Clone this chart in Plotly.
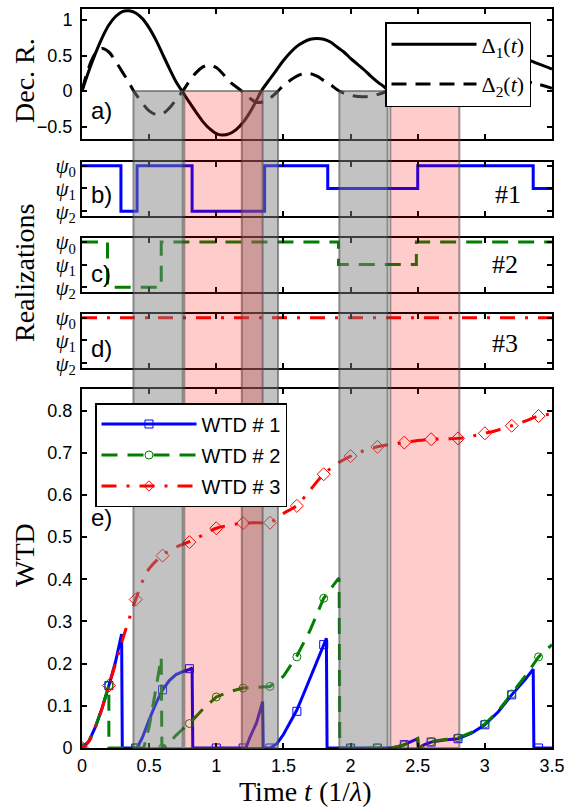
import plotly.graph_objects as go

# ---------------- data ----------------
# Panel a: decoherence rates
t_d1 = [0, 0.05, 0.1, 0.15, 0.2, 0.25, 0.3, 0.35, 0.4, 0.45, 0.5, 0.55, 0.6, 0.65, 0.7, 0.745,
        0.8, 0.85, 0.9, 0.95, 1.0, 1.04, 1.1, 1.15, 1.2, 1.25, 1.3, 1.335, 1.4, 1.45, 1.5, 1.55,
        1.6, 1.65, 1.7, 1.75, 1.8, 1.85, 1.9, 1.95, 2.0, 2.05, 2.1, 2.15, 2.2, 2.25, 2.29, 2.4,
        2.55, 2.7, 2.81, 2.9, 3.0, 3.1, 3.2, 3.3, 3.39, 3.5]
delta1 = [0, 0.28, 0.53, 0.75, 0.93, 1.05, 1.12, 1.13, 1.1, 1.02, 0.89, 0.72, 0.52, 0.32, 0.13, 0,
          -0.16, -0.3, -0.43, -0.53, -0.6, -0.62, -0.6, -0.54, -0.44, -0.3, -0.13, 0, 0.17, 0.3, 0.43, 0.54,
          0.63, 0.69, 0.73, 0.74, 0.73, 0.69, 0.62, 0.55, 0.46, 0.38, 0.3, 0.21, 0.13, 0.06, 0, -0.09,
          -0.14, -0.09, 0, 0.12, 0.26, 0.38, 0.45, 0.45, 0.39, 0.31]
t_d2 = [0, 0.05, 0.1, 0.15, 0.2, 0.25, 0.3, 0.35, 0.385, 0.45, 0.5, 0.55, 0.6, 0.65, 0.7, 0.75,
        0.8, 0.85, 0.9, 0.95, 1.0, 1.05, 1.1, 1.19, 1.25, 1.3, 1.35, 1.4, 1.46, 1.5, 1.55, 1.6,
        1.65, 1.7, 1.75, 1.8, 1.85, 1.916, 2.0, 2.1, 2.2, 2.276, 2.4, 2.6, 2.8, 3.0, 3.2, 3.39, 3.5]
delta2 = [0, 0.33, 0.53, 0.6, 0.55, 0.42, 0.27, 0.12, 0, -0.17, -0.28, -0.33, -0.32, -0.24, -0.12, 0,
          0.14, 0.26, 0.34, 0.37, 0.33, 0.24, 0.13, 0, -0.1, -0.16, -0.15, -0.1, 0, 0.08, 0.15, 0.21,
          0.245, 0.245, 0.21, 0.15, 0.09, 0, -0.06, -0.08, -0.05, 0, 0.1, 0.2, 0.24, 0.23, 0.17, 0.1, 0.04]

# Panels b-d: realizations (0 = psi0, 1 = psi1, 2 = psi2), switching times
real1_t = [0, 0.29, 0.41, 0.82, 1.36, 1.83, 2.5, 3.36, 3.5]
real1_s = [0, 2, 0, 2, 0, 1, 0, 1, 1]
real2_t = [0, 0.19, 0.59, 1.91, 2.49, 3.5]
real2_s = [0, 2, 0, 1, 0, 0]
real3_t = [0, 3.5]
real3_s = [0, 0]
psi_labels = ["<i>ψ</i><sub>0</sub>", "<i>ψ</i><sub>1</sub>", "<i>ψ</i><sub>2</sub>"]

# Shaded intervals: Delta2 < 0 (grey), Delta1 < 0 (red)
neg_delta2 = [(0.383, 0.75), (1.19, 1.46), (1.916, 2.276)]
neg_delta1 = [(0.762, 1.345), (2.296, 2.81)]

# Panel e: waiting-time distributions
wtd1_t = [0, 0.05, 0.1, 0.15, 0.2, 0.25, 0.295, 0.3, 0.41, 0.45, 0.5, 0.55, 0.6, 0.65, 0.7, 0.75, 0.8,
          0.82, 0.825, 1.22, 1.25, 1.3, 1.345, 1.35, 1.4, 1.45, 1.5, 1.55, 1.6, 1.65, 1.7, 1.75, 1.8,
          1.82, 1.825, 2.3, 2.35, 2.4, 2.45, 2.5, 2.505, 2.55, 2.6, 2.7, 2.8, 2.9, 3.0, 3.1, 3.2, 3.3,
          3.36, 3.365, 3.5]
wtd1_v = [0, 0.015, 0.05, 0.095, 0.148, 0.205, 0.27, 0, 0, 0.025, 0.067, 0.105, 0.138, 0.16, 0.174, 0.181, 0.186,
          0.19, 0, 0, 0.025, 0.06, 0.11, 0, 0, 0.01, 0.032, 0.06, 0.09, 0.128, 0.167, 0.205, 0.243,
          0.26, 0, 0, 0.003, 0.008, 0.015, 0.022, 0, 0.008, 0.014, 0.019, 0.022, 0.035, 0.055, 0.086, 0.126, 0.162,
          0.187, 0, 0]
wtd2_t = [0, 0.05, 0.1, 0.15, 0.2, 0.2, 0.46, 0.5, 0.55, 0.59, 0.595, 0.6, 0.65, 0.7, 0.75, 0.8, 0.9, 1.0,
          1.1, 1.2, 1.3, 1.4, 1.5, 1.6, 1.7, 1.8, 1.9, 1.915, 1.92, 2.3, 2.35, 2.4, 2.45, 2.5, 2.505,
          2.55, 2.6, 2.7, 2.8, 2.9, 3.0, 3.1, 3.2, 3.3, 3.4, 3.5]
wtd2_v = [0, 0.015, 0.05, 0.095, 0.148, 0, 0, 0.05, 0.14, 0.215, 0, 0, 0.012, 0.03, 0.045, 0.058, 0.092, 0.121,
          0.134, 0.142, 0.144, 0.146, 0.17, 0.218, 0.28, 0.355, 0.398, 0.403, 0, 0, 0.003, 0.007, 0.014, 0.022, 0,
          0.008, 0.015, 0.02, 0.024, 0.037, 0.057, 0.088, 0.128, 0.17, 0.216, 0.245]
wtd3_t = [0, 0.05, 0.1, 0.15, 0.2, 0.25, 0.3, 0.35, 0.4, 0.45, 0.5, 0.6, 0.7, 0.8, 0.9, 1.0, 1.1, 1.2,
          1.3, 1.4, 1.5, 1.6, 1.7, 1.8, 1.9, 2.0, 2.1, 2.2, 2.3, 2.4, 2.5, 2.6, 2.7, 2.8, 2.9, 3.0,
          3.1, 3.2, 3.3, 3.4, 3.5]
wtd3_v = [0, 0.015, 0.05, 0.095, 0.148, 0.2, 0.255, 0.305, 0.352, 0.395, 0.425, 0.457, 0.476, 0.489, 0.505,
          0.521, 0.528, 0.533, 0.534, 0.535, 0.556, 0.575, 0.612, 0.649, 0.674, 0.692, 0.705, 0.714, 0.72,
          0.724, 0.729, 0.732, 0.733, 0.734, 0.739, 0.746, 0.754, 0.764, 0.775, 0.787, 0.792]
mark_t = [0, 0.2, 0.4, 0.6, 0.8, 1.0, 1.2, 1.4, 1.6, 1.8, 2.0, 2.2, 2.4, 2.6, 2.8, 3.0, 3.2, 3.4]
mark1 = [0, 0.148, 0, 0.138, 0.188, 0, 0, 0, 0.087, 0.245, 0, 0, 0.008, 0.014, 0.022, 0.055, 0.126, 0]
mark2 = [0, 0.148, 0, 0, 0.058, 0.121, 0.142, 0.146, 0.216, 0.355, 0, 0, 0.007, 0.015, 0.024, 0.057, 0.128, 0.216]
mark3 = [0, 0.148, 0.352, 0.456, 0.488, 0.521, 0.533, 0.534, 0.574, 0.649, 0.692, 0.714, 0.724, 0.732,
         0.734, 0.746, 0.764, 0.787]
wtd_names = ["WTD # 1", "WTD # 2", "WTD # 3"]

# ---------------- style ----------------
BLUE, GREEN, RED = "#0000ff", "#007f00", "#ff0000"
SERIF = "Liberation Serif, DejaVu Serif, serif"
SANS = "Liberation Sans, Arial, sans-serif"
W, H = 570, 811
ML, MR, MT, MB = 82, 18, 8, 63

dom_a = [0.823, 0.9986]
dom_b = [0.7193, 0.7919]
dom_c = [0.6166, 0.6888]
dom_d = [0.5139, 0.5865]
dom_e = [0.0, 0.4851]
range_a = [-0.675, 1.155]
range_psi = [2.2, -0.16]
range_e = [0, 0.851]

fig = go.Figure()

# panel a
fig.add_trace(go.Scatter(x=t_d1, y=delta1, mode="lines", line=dict(color="black", width=3, shape="spline"),
                         name="Δ<sub>1</sub>(<i>t</i>)", xaxis="x2", yaxis="y2", legend="legend",
                         legendgroup="d1"))
fig.add_trace(go.Scatter(x=t_d2, y=delta2, mode="lines",
                         line=dict(color="black", width=3, shape="spline", dash="15px,9px"),
                         name="Δ<sub>2</sub>(<i>t</i>)", xaxis="x2", yaxis="y2", legend="legend",
                         legendgroup="d2"))
# panels b-d
fig.add_trace(go.Scatter(x=real1_t, y=real1_s, mode="lines", line=dict(color=BLUE, width=3, shape="hv"),
                         xaxis="x3", yaxis="y3", showlegend=False))
fig.add_trace(go.Scatter(x=real2_t, y=real2_s, mode="lines",
                         line=dict(color=GREEN, width=3, shape="hv", dash="16px,10px"),
                         xaxis="x4", yaxis="y4", showlegend=False))
fig.add_trace(go.Scatter(x=real3_t, y=real3_s, mode="lines",
                         line=dict(color=RED, width=3, shape="hv", dash="15px,10px,3px,10px"),
                         xaxis="x5", yaxis="y5", showlegend=False))
# panel e lines
fig.add_trace(go.Scatter(x=wtd1_t, y=wtd1_v, mode="lines", line=dict(color=BLUE, width=3),
                         xaxis="x", yaxis="y", showlegend=False))
fig.add_trace(go.Scatter(x=wtd2_t, y=wtd2_v, mode="lines", line=dict(color=GREEN, width=3, dash="16px,10px"),
                         xaxis="x", yaxis="y", showlegend=False))
fig.add_trace(go.Scatter(x=wtd3_t, y=wtd3_v, mode="lines",
                         line=dict(color=RED, width=3, dash="15px,10px,3px,10px", shape="spline"),
                         xaxis="x", yaxis="y", showlegend=False))
# markers
for vals, col, sym in [(mark1, BLUE, "square-open"), (mark2, GREEN, "circle-open"), (mark3, RED, "diamond-open")]:
    fig.add_trace(go.Scatter(x=mark_t, y=vals, mode="markers",
                             marker=dict(symbol=sym, color=col, size=8 if sym != "diamond-open" else 10,
                                         line=dict(width=1, color=col)),
                             xaxis="x", yaxis="y", showlegend=False))
# legend entries for panel e
for nm, col, sym, dash, grp in [(wtd_names[0], BLUE, "square-open", "solid", "w1"),
                                (wtd_names[1], GREEN, "circle-open", "16px,10px", "w2"),
                                (wtd_names[2], RED, "diamond-open", "15px,10px,3px,10px", "w3")]:
    fig.add_trace(go.Scatter(x=[None], y=[None], mode="lines+markers", name=nm,
                             line=dict(color=col, width=3, dash=dash),
                             marker=dict(symbol=sym, color=col, size=8, line=dict(width=1, color=col)),
                             xaxis="x", yaxis="y", legend="legend2", legendgroup=grp))

# shaded bands (drawn above the curves, semi-transparent)
band_top = dom_a[0] + (0 - range_a[0]) / (range_a[1] - range_a[0]) * (dom_a[1] - dom_a[0])
shapes = []
for a, b in neg_delta2:
    shapes.append(dict(type="rect", xref="x", yref="paper", x0=a, x1=b, y0=0, y1=band_top,
                       fillcolor="rgba(128,128,128,0.48)", line=dict(color="rgba(70,70,70,0.55)", width=2),
                       layer="above"))
for a, b in neg_delta1:
    shapes.append(dict(type="rect", xref="x", yref="paper", x0=a, x1=b, y0=0, y1=band_top,
                       fillcolor="rgba(255,0,0,0.2)", line=dict(color="rgba(70,70,70,0.55)", width=2),
                       layer="above"))

axis_common = dict(showline=True, linecolor="black", linewidth=2, mirror="ticks", ticks="inside",
                   ticklen=5, tickwidth=1.5, tickcolor="black", showgrid=False, zeroline=False,
                   automargin=False)
xcommon = dict(axis_common, range=[0, 3.5], tickvals=[0, 0.5, 1, 1.5, 2, 2.5, 3, 3.5])
psi_font = dict(family=SERIF, size=21, color="black")

layout = dict(
    width=W, height=H, margin=dict(l=ML, r=MR, t=MT, b=MB, autoexpand=False),
    paper_bgcolor="white", plot_bgcolor="white",
    xaxis=dict(xcommon, anchor="y", domain=[0, 1], showticklabels=True,
               tickfont=dict(family=SANS, size=18, color="black")),
    xaxis2=dict(xcommon, anchor="y2", domain=[0, 1], matches="x", showticklabels=False),
    xaxis3=dict(xcommon, anchor="y3", domain=[0, 1], matches="x", showticklabels=False),
    xaxis4=dict(xcommon, anchor="y4", domain=[0, 1], matches="x", showticklabels=False),
    xaxis5=dict(xcommon, anchor="y5", domain=[0, 1], matches="x", showticklabels=False),
    yaxis=dict(axis_common, anchor="x", domain=dom_e, range=range_e,
               tickvals=[0, 0.1, 0.2, 0.3, 0.4, 0.5, 0.6, 0.7, 0.8],
               tickfont=dict(family=SANS, size=18, color="black"), ticklabelstandoff=4),
    yaxis2=dict(axis_common, anchor="x2", domain=dom_a, range=range_a, tickvals=[-0.5, 0, 0.5, 1],
                tickfont=dict(family=SANS, size=18, color="black"), ticklabelstandoff=4),
    yaxis3=dict(axis_common, anchor="x3", domain=dom_b, range=range_psi, tickvals=[0, 1, 2],
                ticktext=psi_labels, tickfont=psi_font),
    yaxis4=dict(axis_common, anchor="x4", domain=dom_c, range=range_psi, tickvals=[0, 1, 2],
                ticktext=psi_labels, tickfont=psi_font),
    yaxis5=dict(axis_common, anchor="x5", domain=dom_d, range=range_psi, tickvals=[0, 1, 2],
                ticktext=psi_labels, tickfont=psi_font),
    legend=dict(x=(385 - ML) / (W - ML - MR), y=(H - MB - 22) / (H - MB - MT), xanchor="left", yanchor="top",
                bgcolor="white", bordercolor="black", borderwidth=1.5, tracegroupgap=8,
                font=dict(family=SERIF, size=22, color="black"), itemwidth=85),
    legend2=dict(x=(95 - ML) / (W - ML - MR), y=(H - MB - 403) / (H - MB - MT), xanchor="left", yanchor="top",
                 bgcolor="white", bordercolor="black", borderwidth=1.5, tracegroupgap=2,
                 font=dict(family=SANS, size=20, color="black"), itemwidth=95),
    shapes=shapes,
)
fig.update_layout(**layout)


def px_x(px):
    return (px - ML) / (W - ML - MR)


def px_y(py):
    return (H - MB - py) / (H - MB - MT)


ann = []
for txt, cy in [("Dec. R.", 81), ("Realizations", 273), ("WTD", 555)]:
    ann.append(dict(text=txt, x=px_x(24), y=px_y(cy), xref="paper", yref="paper", showarrow=False,
                    textangle=-90, font=dict(family=SERIF, size=28, color="black"),
                    xanchor="center", yanchor="middle"))
ann.append(dict(text="Time <i>t</i> (1/<i>λ</i>)", x=px_x(305), y=px_y(791), xref="paper", yref="paper",
                showarrow=False, font=dict(family=SERIF, size=28, color="black"),
                xanchor="center", yanchor="middle"))
for txt, cy in [("a)", 110), ("b)", 194), ("c)", 273), ("d)", 349), ("e)", 517)]:
    ann.append(dict(text=txt, x=px_x(101), y=px_y(cy), xref="paper", yref="paper", showarrow=False,
                    font=dict(family=SANS, size=24, color="black"), xanchor="center", yanchor="middle"))
for txt, cx, cy in [("#1", 508, 194), ("#2", 505, 264), ("#3", 505, 343)]:
    ann.append(dict(text=txt, x=px_x(cx), y=px_y(cy), xref="paper", yref="paper", showarrow=False,
                    font=dict(family=SERIF, size=26, color="black"), xanchor="center", yanchor="middle"))
fig.update_layout(annotations=ann)

fig.write_html("out.html", config={"displayModeBar": False},
               post_script="document.body.style.margin='0';document.body.style.padding='0';")
